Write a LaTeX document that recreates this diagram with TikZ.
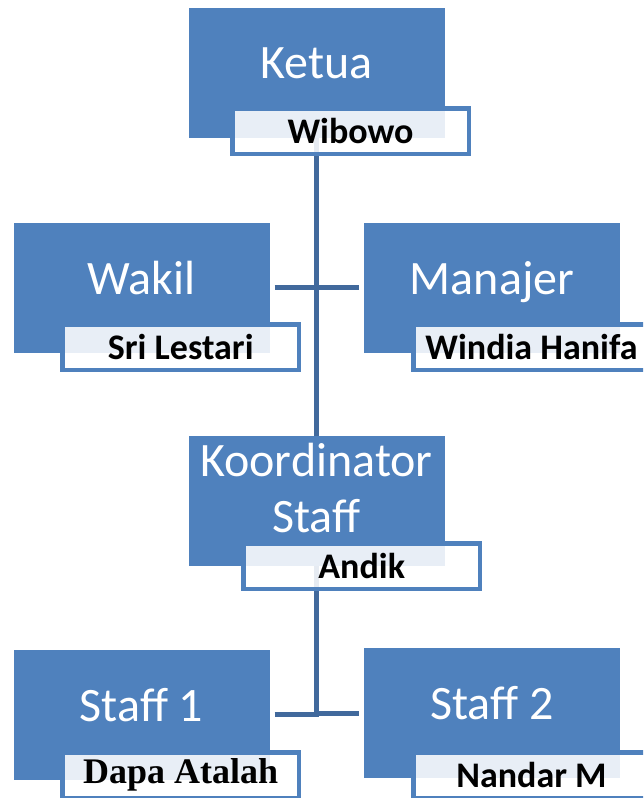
\documentclass[tikz,border=0pt]{standalone}
\usepackage{fontspec}
\setmainfont{Carlito}
\newfontfamily\timesfont{Liberation Serif}
\usetikzlibrary{positioning}

\definecolor{unitblue}{HTML}{4F81BD}
\definecolor{linkblue}{HTML}{41699C}
\tikzset{
  unit/.style={fill=unitblue, text=white, inner sep=0pt,
    minimum width=256pt, minimum height=130pt, text depth=20pt,
    font=\fontsize{48}{53}\selectfont},
  namebox/.style={draw=unitblue, line width=4.5pt, fill=white,
    fill opacity=0.87, text opacity=1, inner sep=0pt,
    minimum width=236.5pt, minimum height=45.5pt,
    font=\fontsize{36}{40}\selectfont\bfseries},
  link/.style={draw=linkblue, line width=5pt, shorten <=5pt, shorten >=5pt}
}

\begin{document}
\begin{tikzpicture}[x=1pt,y=-1pt]
\useasboundingbox (0,0) rectangle (643,798);
\clip (0,0) rectangle (643,798);
% units
\node[unit] (ketua) at (316.5,73) {Ketua};
\node[unit] (wakil) at (141.5,287.5) {Wakil};
\node[unit] (manajer) at (492,287.5) {Manajer};
\node[unit, align=center, text depth=27pt] (koord) at (316.5,501) {Koordinator\\[3pt]Staff};
\node[unit] (staff1) at (141.5,714.5) {Staff 1};
\node[unit] (staff2) at (492,713) {Staff 2};
% links
\draw[link, shorten <=0pt, shorten >=0pt] (ketua.south) -- (koord.north);
\draw[link] (wakil.east) -- (manajer.west);
\coordinate (hub) at (koord.south |- staff1.east);
\draw[link, shorten <=0pt, shorten >=-2.5pt] (koord.south) -- (hub);
\draw[link, shorten >=-2.5pt] (staff1.east) -- (hub);
\draw[link, shorten >=0pt] (staff2.west) -- (hub |- staff2.west);
% names
\node[namebox] (wibowo) at (350.5,131) {Wibowo};
\node[namebox] (srilestari) at (180.75,347) {Sri Lestari};
\node[namebox] (windia) at (531.5,347) {Windia Hanifa};
\node[namebox] (andik) at (361.7,566) {Andik};
\node[namebox, font=\fontsize{36}{40}\selectfont\timesfont\bfseries] (dapa) at (180.75,775) {Dapa Atalah};
\node[namebox] (nandar) at (531.5,775) {Nandar M};
\end{tikzpicture}
\end{document}
